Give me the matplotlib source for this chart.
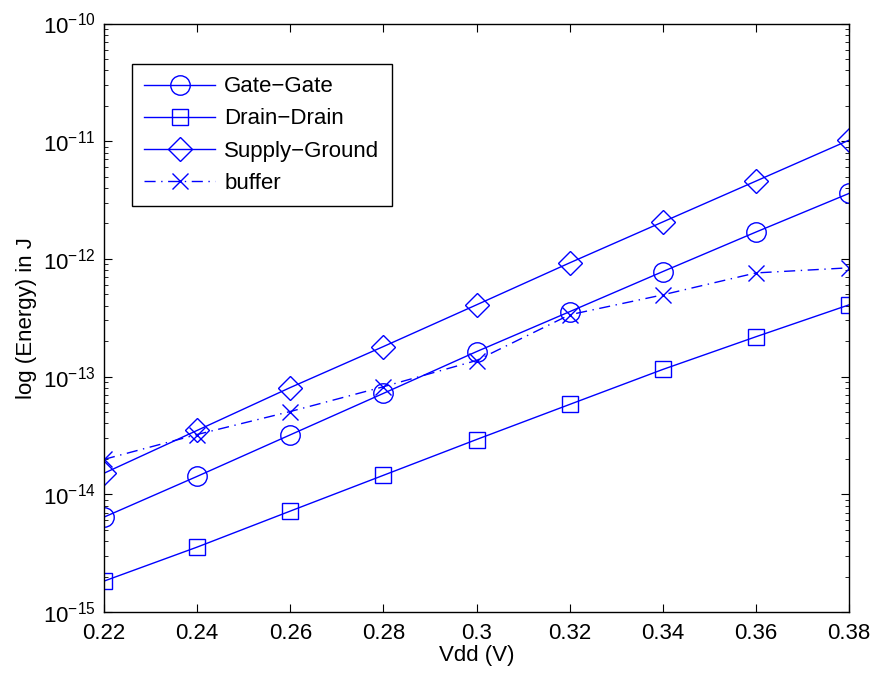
import numpy as np
import matplotlib.pyplot as plt

plt.rcParams['font.family'] = ['Liberation Sans', 'DejaVu Sans']
plt.rcParams['mathtext.fontset'] = 'custom'
plt.rcParams['mathtext.rm'] = 'Liberation Sans'

# data
vdd = [0.22, 0.24, 0.26, 0.28, 0.30, 0.32, 0.34, 0.36, 0.38]
gate_gate = [6.4e-15, 1.42e-14, 3.2e-14, 7.2e-14, 1.63e-13, 3.56e-13, 7.8e-13, 1.69e-12, 3.6e-12]
drain_drain = [1.83e-15, 3.56e-15, 7.2e-15, 1.45e-14, 2.92e-14, 5.8e-14, 1.15e-13, 2.18e-13, 4.07e-13]
supply_ground = [1.51e-14, 3.49e-14, 8.07e-14, 1.8e-13, 4.07e-13, 9.25e-13, 2.06e-12, 4.58e-12, 1.02e-11]
buffer = [1.98e-14, 3.22e-14, 5.05e-14, 8.2e-14, 1.37e-13, 3.35e-13, 4.95e-13, 7.6e-13, 8.4e-13]

col = '#0000ff'
fs = 16

fig = plt.figure(figsize=(8.75, 6.77), dpi=100)
ax = fig.add_axes([104 / 875, 1 - 612 / 677, 745 / 875, 588.5 / 677])

ax.plot(vdd, gate_gate, color=col, lw=1, marker='o', ms=14, mfc='none', mew=1, label='Gate\u2212Gate')
ax.plot(vdd, drain_drain, color=col, lw=1, marker='s', ms=11, mfc='none', mew=1, label='Drain\u2212Drain')
ax.plot(vdd, supply_ground, color=col, lw=1, marker='D', ms=12, mfc='none', mew=1, label='Supply\u2212Ground')
ax.plot(vdd, buffer, color=col, lw=1, marker='x', ms=11, mew=1, ls=(0, (8, 4, 1, 4)), label='buffer')

ax.set_yscale('log')
ax.set_xlim(0.22, 0.38)
ax.set_ylim(1e-15, 1e-10)
ax.set_xticks(vdd)
ax.set_xticklabels(['0.22', '0.24', '0.26', '0.28', '0.3', '0.32', '0.34', '0.36', '0.38'])
ax.tick_params(which='both', direction='in', top=True, right=True, labelsize=fs)
ax.tick_params(which='major', length=6)
ax.tick_params(which='minor', length=3)
ax.tick_params(axis='x', pad=8)
ax.tick_params(axis='y', pad=6)
for s in ax.spines.values():
    s.set_linewidth(1)

ax.set_xlabel('Vdd (V)', fontsize=fs, labelpad=1)
ax.set_ylabel('log (Energy) in J', fontsize=fs, labelpad=4)

leg = ax.legend(loc='upper left', bbox_to_anchor=(0.0376, 0.931), borderaxespad=0, fontsize=fs,
                fancybox=False, edgecolor='black', framealpha=1, handlelength=3.2,
                handletextpad=0.4, borderpad=0.55, labelspacing=0.5)
leg.get_frame().set_linewidth(1)

fig.savefig('out.png', dpi=100)
